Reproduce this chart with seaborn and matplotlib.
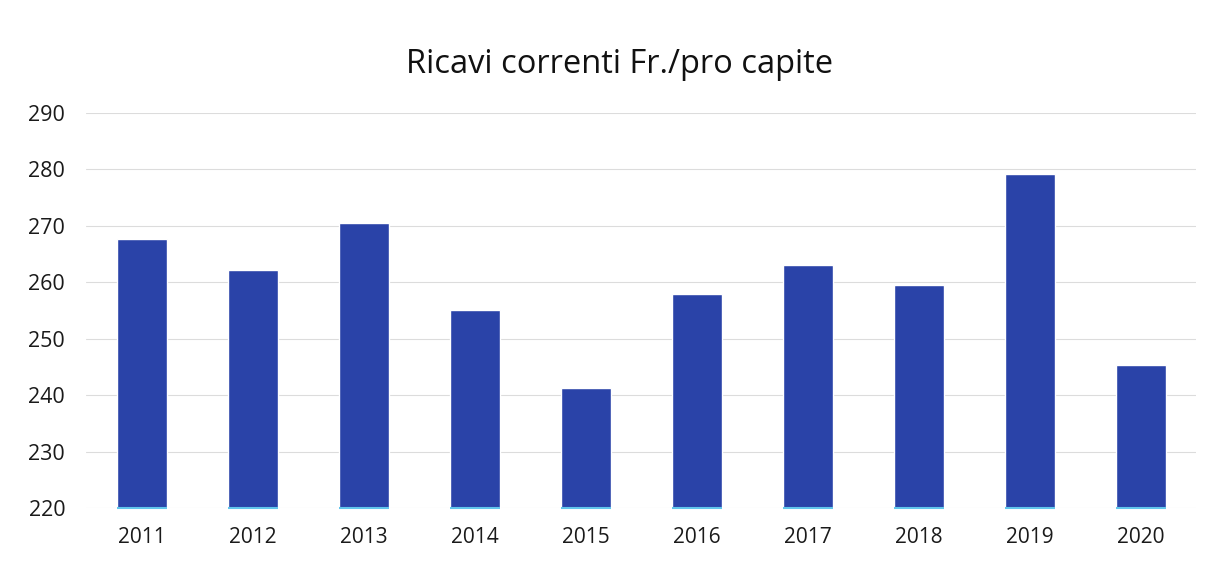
import matplotlib
matplotlib.use("Agg")
import matplotlib.pyplot as plt
import seaborn as sns
import pandas as pd

years = ["2011", "2012", "2013", "2014", "2015", "2016", "2017", "2018", "2019", "2020"]
ricavi = [267.6, 262.2, 270.4, 255.0, 241.2, 257.9, 263.0, 259.5, 279.1, 245.4]
y_ticks = [220, 230, 240, 250, 260, 270, 280, 290]

BAR_COLOR = "#2a43a8"

sns.set_theme(style="white")
plt.rcParams["font.family"] = ["Open Sans", "DejaVu Sans"]

df = pd.DataFrame({"anno": years, "valore": ricavi})

fig = plt.figure(figsize=(12.12, 5.67), dpi=100)
ax = fig.add_axes([0.071, 0.104, 0.916, 0.697])

sns.barplot(data=df, x="anno", y="valore", color=BAR_COLOR, width=0.45,
            saturation=1, ax=ax, zorder=3)

# thin light-blue line at the foot of each bar
for p in ax.patches:
    ax.hlines(y_ticks[0], p.get_x(), p.get_x() + p.get_width(),
              color="#62c6ec", lw=1.5, zorder=4, clip_on=False)

ax.set_xlim(-0.5, len(years) - 0.5)
ax.set_ylim(y_ticks[0], y_ticks[-1])
ax.set_yticks(y_ticks)
ax.yaxis.grid(True, color="#dcdcdc", lw=0.8, zorder=0)
ax.set_axisbelow(True)
sns.despine(ax=ax, left=True, bottom=True)

ax.set_xlabel("")
ax.set_ylabel("")
ax.tick_params(axis="y", length=0, pad=15, labelsize=15.5, labelcolor="#1a1a1a")
ax.tick_params(axis="x", length=0, pad=14, labelsize=15, labelcolor="#1a1a1a")

fig.suptitle("Ricavi correnti Fr./pro capite", x=0.511, y=0.915, fontsize=23.5, color="#111111")

fig.savefig("out.png", dpi=100)
